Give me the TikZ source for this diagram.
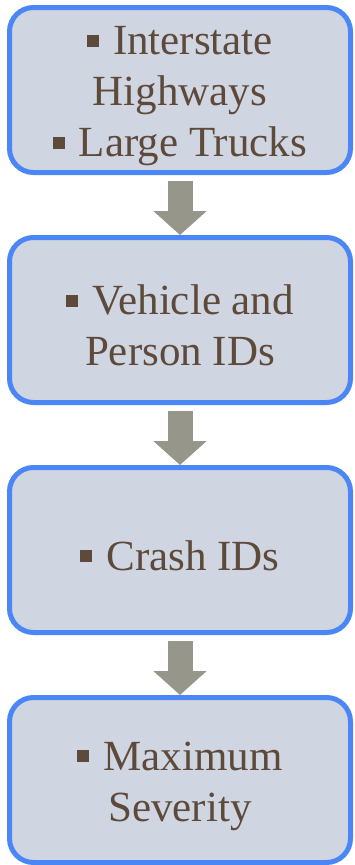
\documentclass[tikz,border=0pt]{standalone}
\usepackage{fontspec}
\setmainfont{Liberation Serif}
\usetikzlibrary{arrows.meta}

\definecolor{boxfill}{HTML}{CFD5E1}
\definecolor{boxline}{HTML}{4A86F5}
\definecolor{textbrown}{HTML}{5E4A3B}
\definecolor{arrowgray}{HTML}{96978A}

% square list bullet (with a strut to keep the first line a bit lower)
\newcommand{\sqbullet}{\rule{0pt}{41pt}\raisebox{8pt}{\rule{12pt}{12pt}}\hspace{14pt}}

\begin{document}
\begin{tikzpicture}[x=1pt, y=1pt, node distance=230pt, every node/.style={font=\fontsize{43}{51}\selectfont}]
    % Styles
    \tikzstyle{filter} = [rectangle, rounded corners=24pt, minimum width=341pt, minimum height=165pt, align=center, line width=5pt, draw=boxline, fill=boxfill, text=textbrown]
    \tikzstyle{flow} = [line width=25pt, draw=arrowgray, -{Triangle[width=52pt,length=24pt]}, shorten <=6pt]

    \useasboundingbox (0,0) rectangle (355,-865);

    % Nodes
    \node (roads)    [filter] at (180,-90) {\sqbullet Interstate\\Highways\\\sqbullet Large Trucks};
    \node (vehicles) [filter, below of=roads] {\sqbullet Vehicle and\\Person IDs};
    \node (crashes)  [filter, below of=vehicles] {\sqbullet Crash IDs};
    \node (severity) [filter, below of=crashes] {\sqbullet Maximum\\Severity};

    % Arrows
    \draw [flow] (roads) -- (vehicles);
    \draw [flow] (vehicles) -- (crashes);
    \draw [flow] (crashes) -- (severity);
\end{tikzpicture}
\end{document}
